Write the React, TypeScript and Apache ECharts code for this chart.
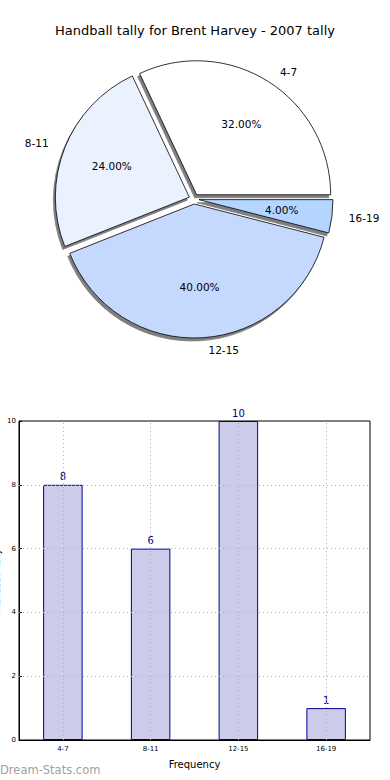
import React, { useEffect, useRef } from "react";
import * as echarts from "echarts";

const titleText = "Handball tally for Brent Harvey - 2007 tally";
const categories = ["4-7", "8-11", "12-15", "16-19"];
const tallies = [8, 6, 10, 1];
const pieColors = ["#ffffff", "#eaf1ff", "#c5d9ff", "#b4d5ff"];
const yGridValues = [2, 4, 6, 8];
const xAxisName = "Frequency";
const yAxisName = "Handball Tally";
const watermark = "Dream-Stats.com";

const FONT = "DejaVu Sans";

export default function App() {
  const ref = useRef<HTMLDivElement>(null);
  useEffect(() => {
    if (!ref.current) return;
    const chart = echarts.init(ref.current, undefined, { renderer: "svg" });
    const pieCenter = [194, 199];
    const pieR = 134;
    const pieData = (withColor: boolean) =>
      categories.map((c, i) => ({
        name: c,
        value: tallies[i],
        selected: true,
        itemStyle: withColor ? { color: pieColors[i] } : { color: "transparent" },
      }));
    const pieCommon = {
      type: "pie",
      center: pieCenter,
      startAngle: 0,
      clockwise: false,
      selectedMode: "multiple",
      selectedOffset: 5,
      avoidLabelOverlap: false,
      silent: true,
      emphasis: { disabled: true },
    };
    const option: any = {
      animation: false,
      textStyle: { fontFamily: FONT },
      title: {
        text: titleText,
        left: "center",
        top: 19,
        textStyle: { fontSize: 13, fontWeight: "normal", color: "#000", fontFamily: FONT },
      },
      grid: {
        left: 19,
        right: 20,
        top: 421,
        bottom: 40,
        show: true,
        borderColor: "#000",
        borderWidth: 1,
        containLabel: false,
        outerBoundsMode: "none",
      },
      xAxis: {
        type: "category",
        data: categories,
        axisLine: { lineStyle: { color: "#000" } },
        axisTick: { show: false },
        axisLabel: { fontSize: 7, color: "#000", margin: 5, fontFamily: FONT },
        splitLine: { show: false },
        name: xAxisName,
        nameLocation: "middle",
        nameGap: 19,
        nameTextStyle: { fontSize: 10, color: "#000", fontFamily: FONT },
      },
      yAxis: {
        type: "value",
        min: 0,
        max: 10,
        interval: 2,
        axisLine: { show: true, lineStyle: { color: "#000" } },
        axisTick: { show: true, inside: true, length: 3, lineStyle: { color: "#000" } },
        axisLabel: { fontSize: 7, color: "#000", margin: 3, fontFamily: FONT },
        splitLine: { show: false },
        name: yAxisName,
        nameLocation: "middle",
        nameGap: 18,
        nameMoveOverlap: false,
        nameRotate: 90,
        nameTextStyle: { fontSize: 9, color: "#000", fontFamily: FONT },
      },
      graphic: [
        {
          type: "text",
          left: 0,
          top: 764,
          style: { text: watermark, fill: "#a0a0a0", font: `11.5px "${FONT}"` },
        },
      ],
      series: [
        {
          ...pieCommon,
          radius: pieR,
          label: { show: false },
          labelLine: { show: false },
          itemStyle: {
            borderColor: "#000",
            borderWidth: 0.8,
            shadowColor: "rgba(0,0,0,0.5)",
            shadowOffsetX: -2,
            shadowOffsetY: 3,
            shadowBlur: 0.5,
          },
          data: pieData(true),
        },
        {
          ...pieCommon,
          radius: pieR * 1.2,
          itemStyle: { color: "transparent", borderWidth: 0 },
          label: {
            show: true,
            position: "inside",
            fontSize: 10.5,
            color: "#000",
            fontFamily: FONT,
            formatter: (p: any) => Number(p.percent).toFixed(2) + "%",
          },
          labelLine: { show: false },
          data: pieData(false),
        },
        {
          ...pieCommon,
          radius: pieR,
          itemStyle: { color: "transparent", borderWidth: 0 },
          label: {
            show: true,
            position: "outside",
            fontSize: 10.5,
            color: "#000",
            fontFamily: FONT,
            formatter: "{b}",
          },
          labelLine: { show: false, length: 12, length2: 0 },
          data: pieData(false),
        },
        {
          type: "bar",
          data: tallies,
          barWidth: "45%",
          itemStyle: { color: "#ccccea", borderColor: "#000099", borderWidth: 1 },
          label: {
            show: true,
            position: "top",
            distance: 3,
            color: "#000080",
            fontSize: 10,
            fontFamily: FONT,
          },
          markLine: {
            silent: true,
            symbol: "none",
            label: { show: false },
            lineStyle: { type: [1, 3], color: "#b0b0b0", width: 1 },
            data: [
              ...categories.map((c) => ({ xAxis: c })),
              ...yGridValues.map((v) => ({ yAxis: v })),
            ],
          },
        },
      ],
    };
    chart.setOption(option);
    return () => chart.dispose();
  }, []);
  return (
    <div
      ref={ref}
      style={{ position: "absolute", left: 0, top: 0, width: 390, height: 780, background: "#fff" }}
    />
  );
}
